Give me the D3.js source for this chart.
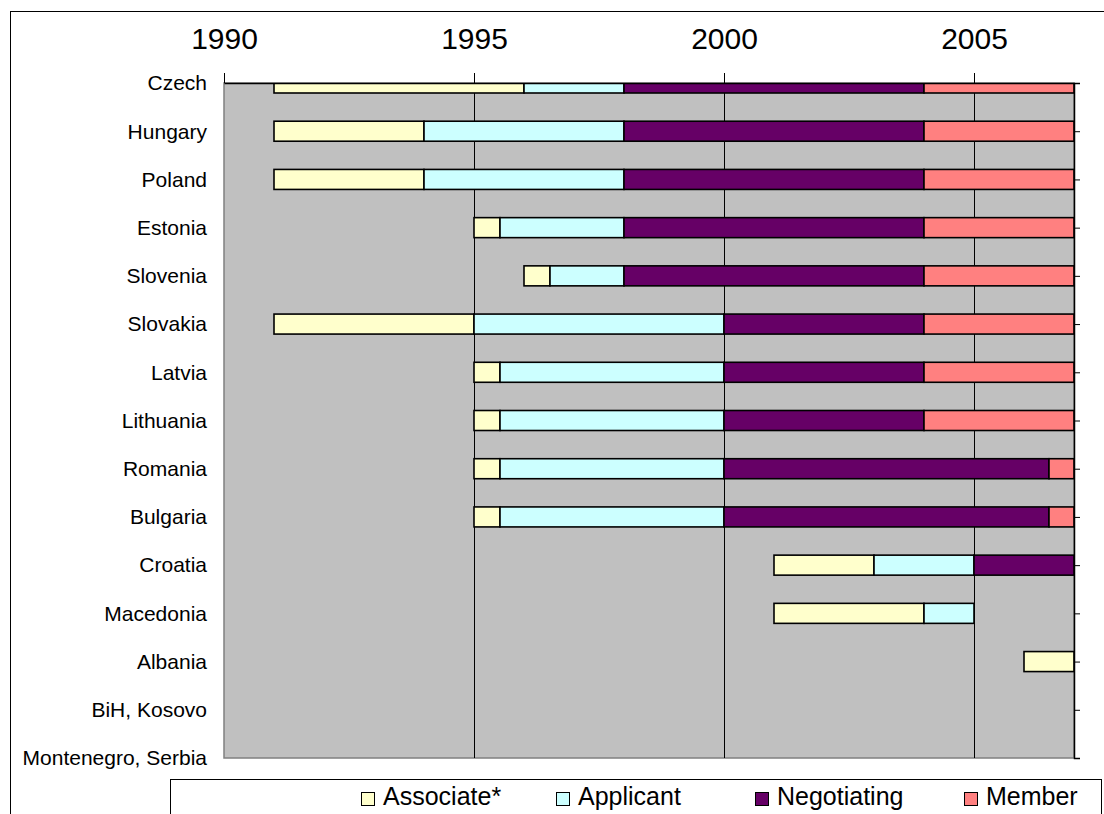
<!DOCTYPE html>
<html>
<head>
<meta charset="utf-8">
<script src="https://cdn.jsdelivr.net/npm/d3@7"></script>
<style>
  html, body { margin: 0; padding: 0; background: #fff; }
  svg { display: block; font-family: "Liberation Sans", Arial, sans-serif; }
</style>
</head>
<body>
<div id="chart"></div>
<script>
// Countries, top to bottom
const countries = [
  'Czech', 'Hungary', 'Poland', 'Estonia', 'Slovenia', 'Slovakia', 'Latvia',
  'Lithuania', 'Romania', 'Bulgaria', 'Croatia', 'Macedonia', 'Albania',
  'BiH, Kosovo', 'Montenegro, Serbia'
]

// Stage spans [from, to] per country (null = stage not reached)
const associate = [
  [1991, 1996], [1991, 1994], [1991, 1994], [1995, 1995.52], [1996, 1996.52],
  [1991, 1995], [1995, 1995.52], [1995, 1995.52], [1995, 1995.52], [1995, 1995.52],
  [2001, 2003], [2001, 2004], [2006, 2007], null, null
]
const applicant = [
  [1996, 1998], [1994, 1998], [1994, 1998], [1995.52, 1998], [1996.52, 1998],
  [1995, 2000], [1995.52, 2000], [1995.52, 2000], [1995.52, 2000], [1995.52, 2000],
  [2003, 2005], [2004, 2005], null, null, null
]
const negotiating = [
  [1998, 2004], [1998, 2004], [1998, 2004], [1998, 2004], [1998, 2004],
  [2000, 2004], [2000, 2004], [2000, 2004], [2000, 2006.5], [2000, 2006.5],
  [2005, 2007], null, null, null, null
]
const member = [
  [2004, 2007], [2004, 2007], [2004, 2007], [2004, 2007], [2004, 2007],
  [2004, 2007], [2004, 2007], [2004, 2007], [2006.5, 2007], [2006.5, 2007],
  null, null, null, null, null
]

const yearTicks = [1990, 1995, 2000, 2005]
const yearDomain = [1990, 2007]

const stages = [
  { name: 'Associate*', spans: associate, color: '#FFFFCC' },
  { name: 'Applicant', spans: applicant, color: '#CCFFFF' },
  { name: 'Negotiating', spans: negotiating, color: '#660066' },
  { name: 'Member', spans: member, color: '#FF8080' }
]

const width = 1104
const height = 814
const plot = { left: 224, right: 1074, top: 83, bottom: 758 }

const svg = d3.select('#chart')
  .append('svg')
  .attr('width', width)
  .attr('height', height)

// Outer chart border
svg.append('rect')
  .attr('x', 10.5).attr('y', 11.5)
  .attr('width', 1100).attr('height', 820)
  .attr('fill', '#fff')
  .attr('stroke', '#000')
  .attr('stroke-width', 1)

const x = d3.scaleLinear().domain(yearDomain).range([plot.left, plot.right])
const y = d3.scalePoint().domain(countries).range([plot.top, plot.bottom])
const barH = 20

// Plot background
svg.append('rect')
  .attr('x', plot.left).attr('y', plot.top)
  .attr('width', plot.right - plot.left).attr('height', plot.bottom - plot.top)
  .attr('fill', '#C0C0C0')
  .attr('stroke', '#808080')
  .attr('stroke-width', 1.5)

// Vertical gridlines
svg.append('g')
  .selectAll('line')
  .data(yearTicks.slice(1))
  .join('line')
  .attr('x1', d => Math.round(x(d)) + 0.5)
  .attr('x2', d => Math.round(x(d)) + 0.5)
  .attr('y1', plot.top)
  .attr('y2', plot.bottom)
  .attr('stroke', '#000')
  .attr('stroke-width', 1)

// Clip bars to plot area
svg.append('clipPath').attr('id', 'plot-clip')
  .append('rect')
  .attr('x', plot.left - 2).attr('y', plot.top)
  .attr('width', plot.right - plot.left + 2).attr('height', plot.bottom - plot.top)

const bars = svg.append('g').attr('clip-path', 'url(#plot-clip)')

stages.forEach(stage => {
  const rows = stage.spans
    .map((s, i) => s && { country: countries[i], from: s[0], to: s[1] })
    .filter(Boolean)
  bars.append('g')
    .selectAll('rect')
    .data(rows)
    .join('rect')
    .attr('x', d => x(d.from))
    .attr('y', d => y(d.country) - barH / 2)
    .attr('width', d => x(d.to) - x(d.from))
    .attr('height', barH)
    .attr('fill', stage.color)
    .attr('stroke', '#000')
    .attr('stroke-width', 1.6)
})

// Top axis with years
const topAxis = svg.append('g')
  .attr('transform', `translate(0,${plot.top})`)
  .call(d3.axisTop(x).tickValues(yearTicks).tickFormat(d3.format('d'))
    .tickSize(10).tickSizeOuter(0).tickPadding(24))
topAxis.select('.domain').attr('stroke', '#000').attr('stroke-width', 1.5)
topAxis.selectAll('.tick line').attr('stroke', '#000')
topAxis.selectAll('text')
  .attr('font-family', '"Liberation Sans", Arial, sans-serif')
  .attr('font-size', 30)
  .attr('fill', '#000')

// Right axis: tick marks only
const rightAxis = svg.append('g')
  .attr('transform', `translate(${plot.right},0)`)
  .call(d3.axisRight(y).tickSize(6).tickFormat(''))
rightAxis.select('.domain').attr('stroke', '#000').attr('stroke-width', 1.5)
rightAxis.selectAll('.tick line').attr('stroke', '#000')

// Country labels
svg.append('g')
  .selectAll('text')
  .data(countries)
  .join('text')
  .attr('x', 207)
  .attr('y', d => y(d))
  .attr('dy', '0.35em')
  .attr('text-anchor', 'end')
  .attr('font-size', 21)
  .attr('fill', '#000')
  .text(d => d)

// Legend
const legend = svg.append('g')
legend.append('rect')
  .attr('x', 170.5).attr('y', 779.5)
  .attr('width', 931).attr('height', 60)
  .attr('fill', '#fff')
  .attr('stroke', '#000')
  .attr('stroke-width', 1)

const legendX = [361, 556, 755, 964]
const item = legend.selectAll('g.item')
  .data(stages)
  .join('g')
  .attr('class', 'item')
  .attr('transform', (d, i) => `translate(${legendX[i]},792)`)
item.append('rect')
  .attr('x', 0.5).attr('y', 0.5)
  .attr('width', 13).attr('height', 13)
  .attr('fill', d => d.color)
  .attr('stroke', '#000')
  .attr('stroke-width', 1)
item.append('text')
  .attr('x', 22)
  .attr('y', 13)
  .attr('font-size', 25)
  .attr('fill', '#000')
  .text(d => d.name)
</script>
</body>
</html>
